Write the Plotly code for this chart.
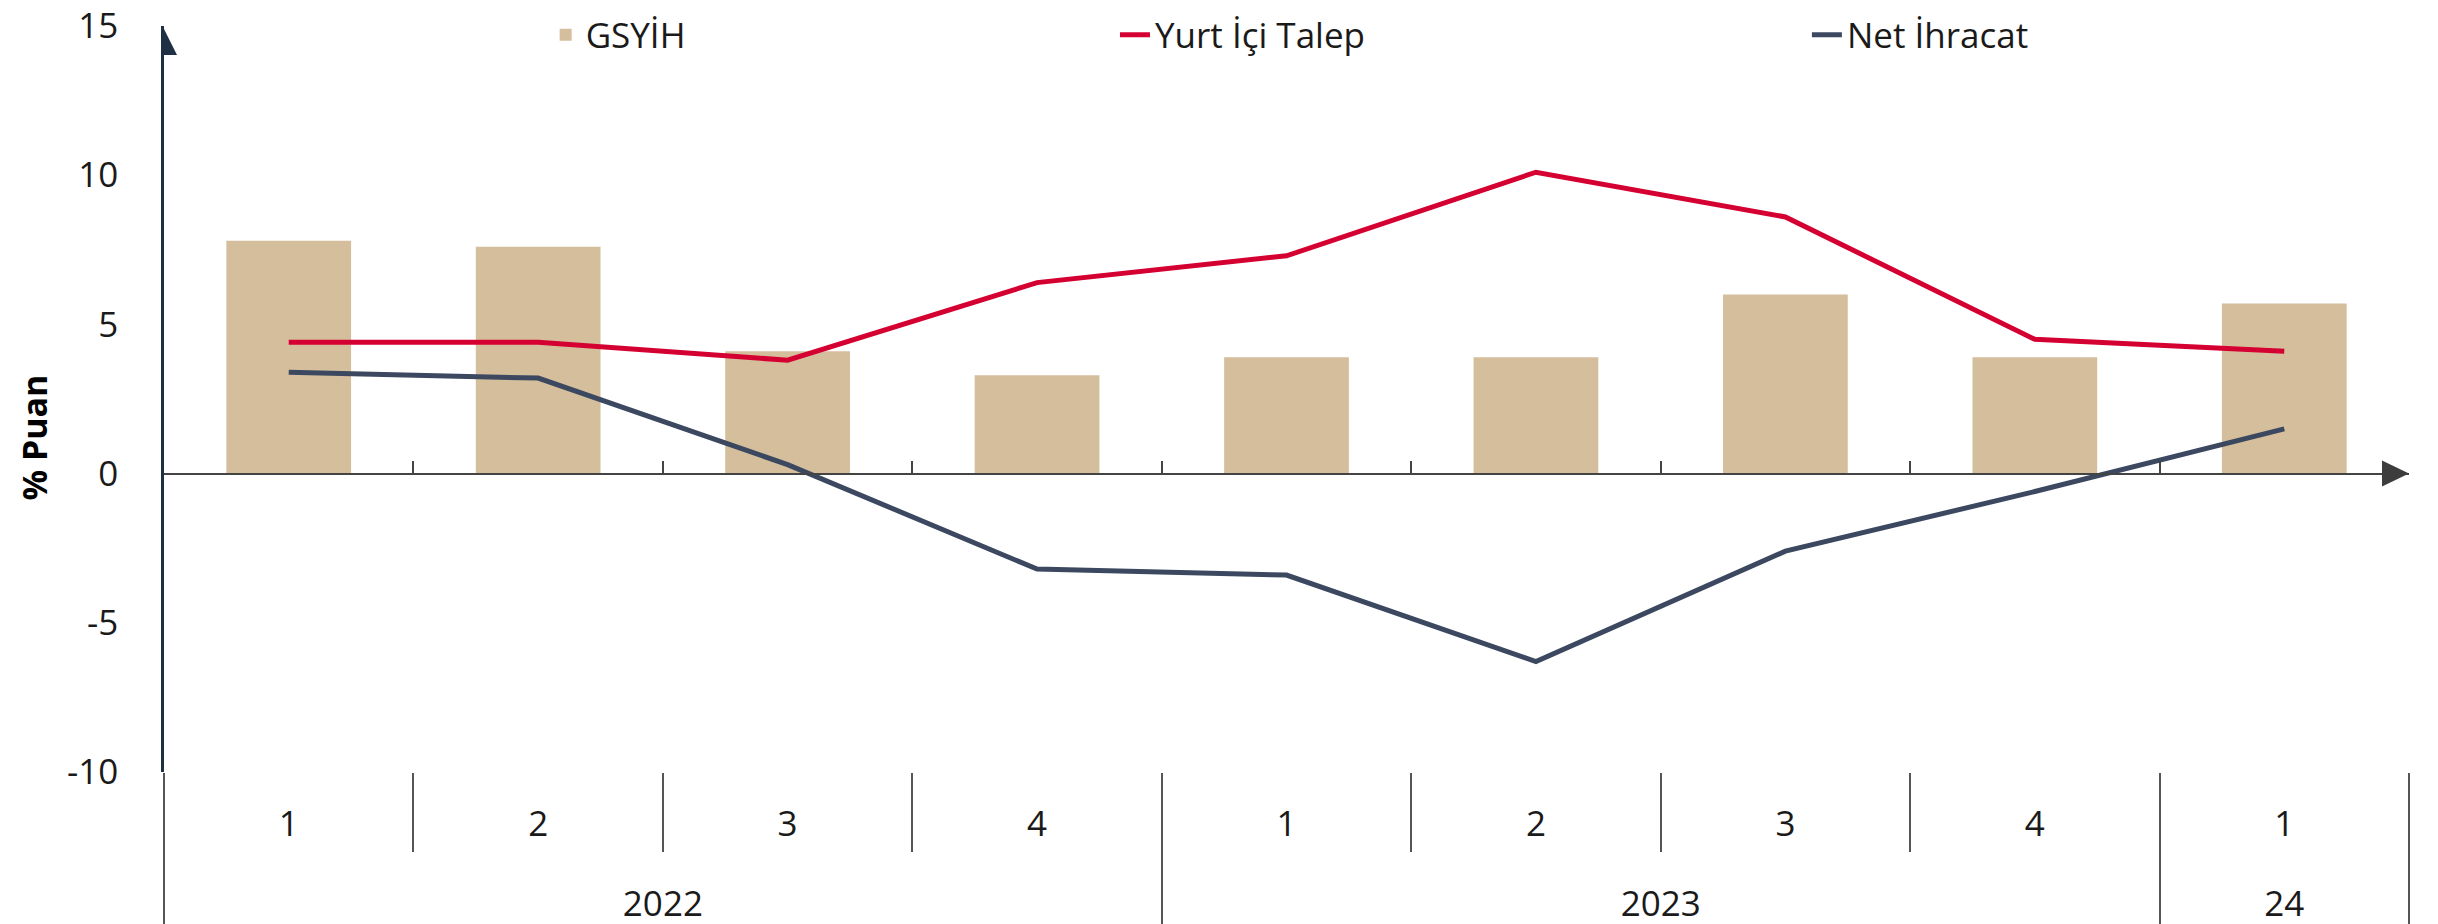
import plotly.graph_objects as go

# ---- data ----
years = ["2022", "2022", "2022", "2022", "2023", "2023", "2023", "2023", "24"]
quarters = ["1", "2", "3", "4", "1", "2", "3", "4", "1"]
gsyih = [7.8, 7.6, 4.1, 3.3, 3.9, 3.9, 6.0, 3.9, 5.7]
yurt_ici_talep = [4.4, 4.4, 3.8, 6.4, 7.3, 10.1, 8.6, 4.5, 4.1]
net_ihracat = [3.4, 3.2, 0.3, -3.2, -3.4, -6.3, -2.6, -0.6, 1.5]
y_ticks = [-10, -5, 0, 5, 10, 15]
y_ticktext = ["-10", "-5", "0", "5", "10", "15"]

# ---- style ----
BAR = "#d4be9b"
RED = "#d50032"
NAVY = "#3b4860"
AXIS = "#1f3044"
GREY = "#444444"
DIV = "#555555"
TXT = "#1a1a1a"
FONT = "Open Sans"

n = len(quarters)
x_mc = [years, quarters]
bounds = [i - 0.5 for i in range(n + 1)]
y_min, y_max = y_ticks[0], y_ticks[-1]
zero_pos = (0 - y_min) / (y_max - y_min)

fig = go.Figure()
fig.add_trace(go.Bar(x=x_mc, y=gsyih, name="GSYİH",
                     marker=dict(color=BAR, line=dict(width=0)), legend="legend"))
fig.add_trace(go.Scatter(x=x_mc, y=yurt_ici_talep, name="Yurt İçi Talep", mode="lines",
                         line=dict(color=RED, width=5), legend="legend2"))
fig.add_trace(go.Scatter(x=x_mc, y=net_ihracat, name="Net İhracat", mode="lines",
                         line=dict(color=NAVY, width=5), legend="legend3"))
# helper traces so the overlay axes are drawn
fig.add_trace(go.Scatter(x=list(range(n)), y=[None] * n, xaxis="x2", mode="lines",
                         showlegend=False, hoverinfo="skip"))
fig.add_trace(go.Scatter(x=list(range(n)), y=[None] * n, xaxis="x3", mode="lines",
                         showlegend=False, hoverinfo="skip"))

leg_common = dict(orientation="h", xanchor="left", yanchor="middle",
                  xref="paper", yref="container", y=1 - 27 / 924,
                  bgcolor="rgba(0,0,0,0)", font=dict(family=FONT, size=35, color=TXT),
                  itemwidth=30)

fig.update_layout(
    width=2438, height=924,
    margin=dict(l=156, r=37, t=18, b=160, autoexpand=False),
    paper_bgcolor="white", plot_bgcolor="white",
    font=dict(family=FONT, size=35, color=TXT),
    bargap=0.5,
    showlegend=True,
    legend=dict(x=0.170, **leg_common),
    legend2=dict(x=0.4236, **leg_common),
    legend3=dict(x=0.7318, **leg_common),
    xaxis=dict(range=[-0.5, n - 0.5], showgrid=False, zeroline=False, showline=False,
               tickson="labels", ticks="outside", ticklen=52,
               tickcolor="rgba(0,0,0,0)", ticklabelstandoff=-31, automargin=False,
               showdividers=True, dividercolor=DIV, dividerwidth=2,
               tickfont=dict(family=FONT, size=35, color=TXT)),
    xaxis2=dict(overlaying="x", anchor="free", position=zero_pos, range=[-0.5, n - 0.5],
                tickvals=bounds, ticks="inside", ticklen=12, tickwidth=2, tickcolor=GREY,
                showticklabels=False, showline=True, linecolor=GREY, linewidth=2,
                showgrid=False, zeroline=False, layer="above traces", automargin=False),
    xaxis3=dict(overlaying="x", anchor="y", side="bottom", range=[-0.5, n - 0.5],
                tickvals=bounds[1:-1], ticks="outside", ticklen=79, tickwidth=2,
                tickcolor=DIV, showticklabels=False, showline=False,
                showgrid=False, zeroline=False, automargin=False),
    yaxis=dict(range=[y_min, y_max], tickvals=y_ticks, ticktext=y_ticktext,
               showgrid=False, zeroline=False, automargin=False, ticklabeloverflow="allow",
               showline=True, linecolor=AXIS, linewidth=2.5, ticks="",
               ticklabelstandoff=36, tickfont=dict(family=FONT, size=35, color=TXT)),
    annotations=[dict(text="<b>% Puan</b>", xref="paper", yref="paper",
                      x=-0.058, y=0.448, xanchor="center", yanchor="middle",
                      textangle=-90, showarrow=False,
                      font=dict(family=FONT, size=34, color="#000000"))],
    shapes=[
        # arrow head at top of y axis
        dict(type="path", xref="x2", yref="y", xsizemode="pixel", ysizemode="pixel",
             xanchor=-0.5, yanchor=y_max, path="M -13,-29 L 13,-29 L 0,-3 Z",
             fillcolor=AXIS, line=dict(width=0)),
        # arrow head at right end of zero line
        dict(type="path", xref="x2", yref="y", xsizemode="pixel", ysizemode="pixel",
             xanchor=n - 0.5, yanchor=0, path="M -27,13 L -27,-13 L 0,0 Z",
             fillcolor="#3d3d3d", line=dict(width=0)),
    ],
)

fig.write_html("out.html")
